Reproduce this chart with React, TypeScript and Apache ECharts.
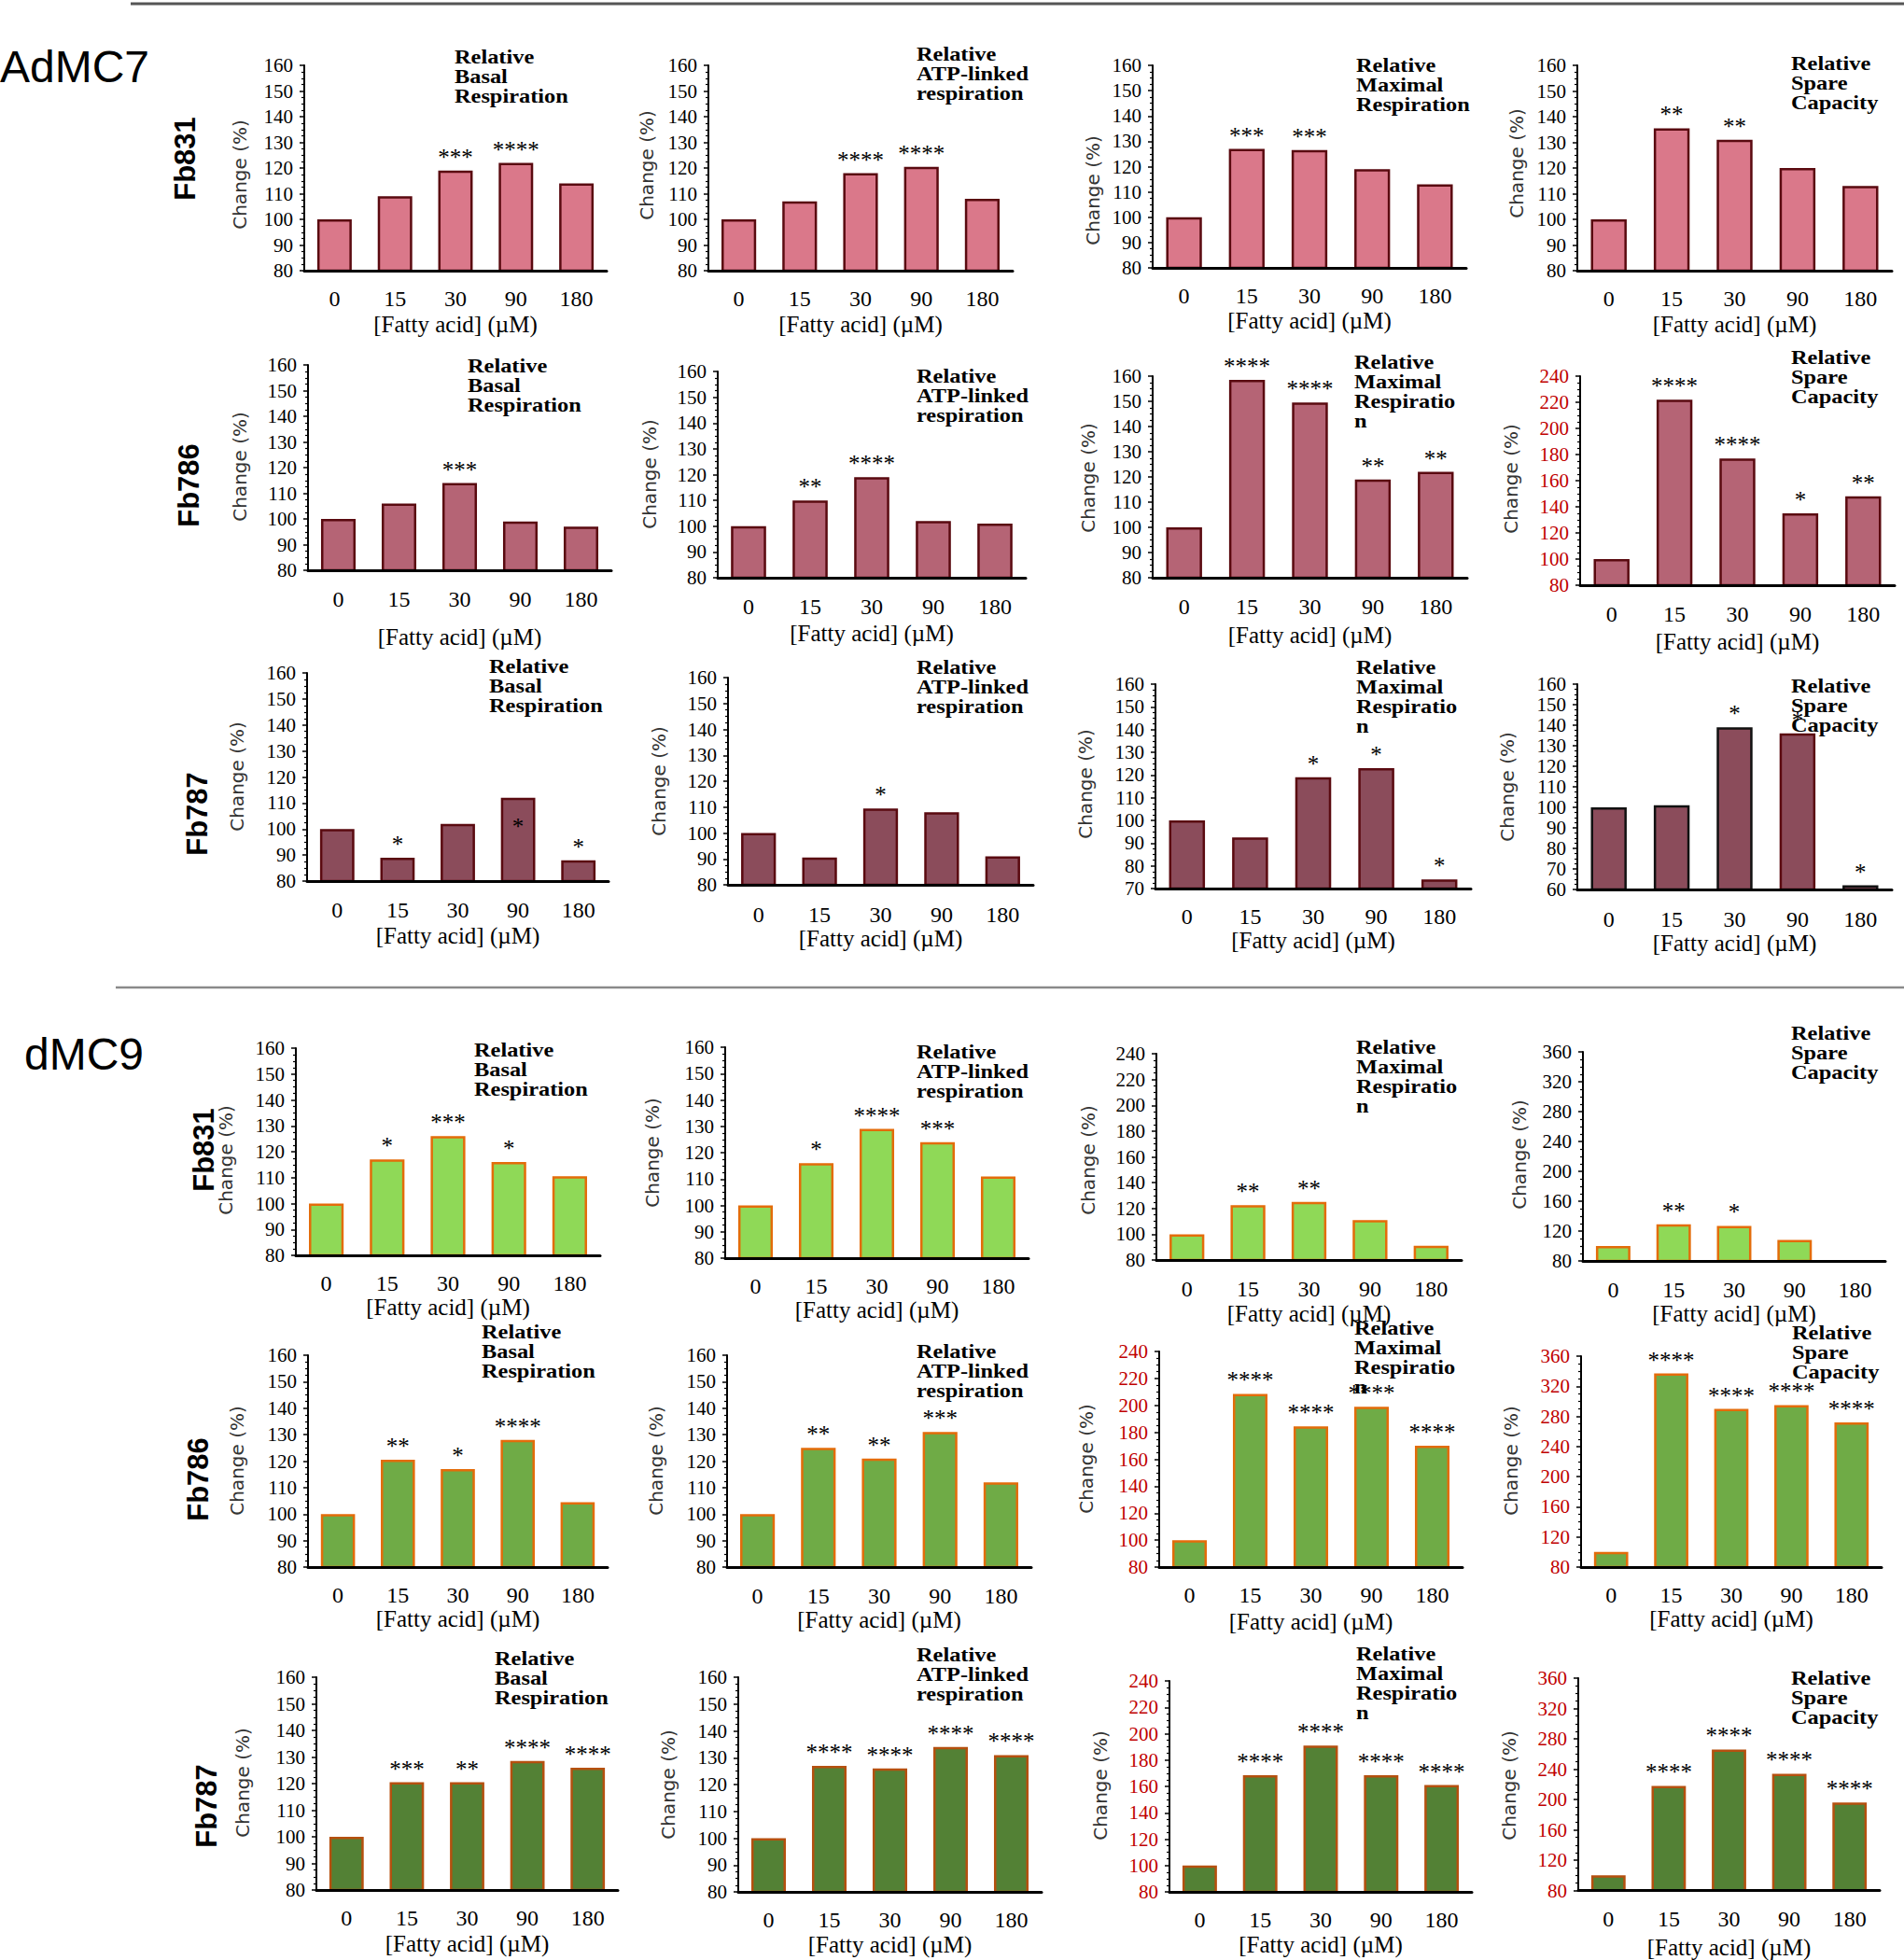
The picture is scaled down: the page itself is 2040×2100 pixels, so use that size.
import React, { useEffect, useRef } from "react";
import * as echarts from "echarts";

// ---------- data ----------
const categories = ["0", "15", "30", "90", "180"];

// AdMC7
const admc7Fb831Basal = [100, 109, 119, 122, 114];
const admc7Fb831BasalSig = ["", "", "***", "****", ""];
const admc7Fb831Atp = [100, 107, 118, 120.5, 108];
const admc7Fb831AtpSig = ["", "", "****", "****", ""];
const admc7Fb831Max = [100, 127, 126.5, 119, 113];
const admc7Fb831MaxSig = ["", "***", "***", "", ""];
const admc7Fb831Spare = [100, 135.5, 131, 120, 113];
const admc7Fb831SpareSig = ["", "**", "**", "", ""];

const admc7Fb786Basal = [100, 106, 114, 99, 97];
const admc7Fb786BasalSig = ["", "", "***", "", ""];
const admc7Fb786Atp = [100, 110, 119, 102, 101];
const admc7Fb786AtpSig = ["", "**", "****", "", ""];
const admc7Fb786Max = [100, 158.5, 149.5, 119, 122];
const admc7Fb786MaxSig = ["", "****", "****", "**", "**"];
const admc7Fb786Spare = [100, 222, 177, 135, 148];
const admc7Fb786SpareSig = ["", "****", "****", "*", "**"];

const admc7Fb787Basal = [100, 89, 102, 112, 88];
const admc7Fb787BasalSig = ["", "*", "", "*", "*"];
const admc7Fb787Atp = [100, 90.5, 109.5, 108, 91];
const admc7Fb787AtpSig = ["", "", "*", "", ""];
const admc7Fb787Max = [100, 92.5, 119, 123, 74];
const admc7Fb787MaxSig = ["", "", "*", "*", "*"];
const admc7Fb787Spare = [100, 101, 139, 136, 62];
const admc7Fb787SpareSig = ["", "", "*", "*", "*"];

// dMC9
const dmc9Fb831Basal = [100, 117, 126, 116, 110.5];
const dmc9Fb831BasalSig = ["", "*", "***", "*", ""];
const dmc9Fb831Atp = [100, 116, 129, 124, 111];
const dmc9Fb831AtpSig = ["", "*", "****", "***", ""];
const dmc9Fb831Max = [100, 122.5, 125, 111, 91];
const dmc9Fb831MaxSig = ["", "**", "**", "", ""];
const dmc9Fb831Spare = [100, 129, 127, 108, 81];
const dmc9Fb831SpareSig = ["", "**", "*", "", ""];

const dmc9Fb786Basal = [100, 120.5, 117, 128, 104.5];
const dmc9Fb786BasalSig = ["", "**", "*", "****", ""];
const dmc9Fb786Atp = [100, 125, 121, 131, 112];
const dmc9Fb786AtpSig = ["", "**", "**", "***", ""];
const dmc9Fb786Max = [100, 208.5, 184.5, 199, 170];
const dmc9Fb786MaxSig = ["", "****", "****", "****", "****"];
const dmc9Fb786Spare = [100, 337, 290, 295, 272];
const dmc9Fb786SpareSig = ["", "****", "****", "****", "****"];

const dmc9Fb787Basal = [100, 120.5, 120.5, 128.5, 126];
const dmc9Fb787BasalSig = ["", "***", "**", "****", "****"];
const dmc9Fb787Atp = [100, 127, 126, 134, 131];
const dmc9Fb787AtpSig = ["", "****", "****", "****", "****"];
const dmc9Fb787Max = [100, 168.5, 191, 168.5, 161];
const dmc9Fb787MaxSig = ["", "****", "****", "****", "****"];
const dmc9Fb787Spare = [100, 218, 266, 234, 196];
const dmc9Fb787SpareSig = ["", "****", "****", "****", "****"];

const rowLabels = ["Fb831", "Fb786", "Fb787", "Fb831", "Fb786", "Fb787"];
const groupLabels = ["AdMC7", "dMC9"];

const T_BASAL = ["Relative", "Basal", "Respiration"];
const T_ATP = ["Relative", "ATP-linked", "respiration"];
const T_MAX = ["Relative", "Maximal", "Respiration"];
const T_MAX2 = ["Relative", "Maximal", "Respiratio", "n"];
const T_SPARE = ["Relative", "Spare", "Capacity"];

// ---------- styles ----------
const FILL = ["#DA788A", "#B56475", "#8B4C5B", "#8FD957", "#6FAB46", "#538135"];
const EDGE = ["#5A0A10", "#5A0A10", "#5A0A10", "#E36C0A", "#E36C0A", "#B5500F"];
const RED = "#C00000";

type Panel = {
  values: number[];
  sig: string[];
  title: string[];
  min: number;
  max: number;
  interval: number;
  red?: boolean;
  edges?: string[];
  insideSig?: number[];
};

const P160 = { min: 80, max: 160, interval: 10 };
const P240 = { min: 80, max: 240, interval: 20 };
const P360 = { min: 80, max: 360, interval: 40 };

const PANELS: Panel[] = [
  { values: admc7Fb831Basal, sig: admc7Fb831BasalSig, title: T_BASAL, ...P160 },
  { values: admc7Fb831Atp, sig: admc7Fb831AtpSig, title: T_ATP, ...P160 },
  { values: admc7Fb831Max, sig: admc7Fb831MaxSig, title: T_MAX, ...P160 },
  { values: admc7Fb831Spare, sig: admc7Fb831SpareSig, title: T_SPARE, ...P160 },

  { values: admc7Fb786Basal, sig: admc7Fb786BasalSig, title: T_BASAL, ...P160 },
  { values: admc7Fb786Atp, sig: admc7Fb786AtpSig, title: T_ATP, ...P160 },
  { values: admc7Fb786Max, sig: admc7Fb786MaxSig, title: T_MAX2, ...P160 },
  { values: admc7Fb786Spare, sig: admc7Fb786SpareSig, title: T_SPARE, ...P240, red: true },

  { values: admc7Fb787Basal, sig: admc7Fb787BasalSig, title: T_BASAL, ...P160, insideSig: [3] },
  { values: admc7Fb787Atp, sig: admc7Fb787AtpSig, title: T_ATP, ...P160 },
  { values: admc7Fb787Max, sig: admc7Fb787MaxSig, title: T_MAX2, min: 70, max: 160, interval: 10 },
  {
    values: admc7Fb787Spare, sig: admc7Fb787SpareSig, title: T_SPARE, min: 60, max: 160, interval: 10,
    edges: ["#111111", "#111111", "#111111", "#5A0A10", "#111111"],
  },

  { values: dmc9Fb831Basal, sig: dmc9Fb831BasalSig, title: T_BASAL, ...P160 },
  { values: dmc9Fb831Atp, sig: dmc9Fb831AtpSig, title: T_ATP, ...P160 },
  { values: dmc9Fb831Max, sig: dmc9Fb831MaxSig, title: T_MAX2, ...P240 },
  { values: dmc9Fb831Spare, sig: dmc9Fb831SpareSig, title: T_SPARE, ...P360 },

  { values: dmc9Fb786Basal, sig: dmc9Fb786BasalSig, title: T_BASAL, ...P160 },
  { values: dmc9Fb786Atp, sig: dmc9Fb786AtpSig, title: T_ATP, ...P160 },
  { values: dmc9Fb786Max, sig: dmc9Fb786MaxSig, title: T_MAX2, ...P240, red: true },
  { values: dmc9Fb786Spare, sig: dmc9Fb786SpareSig, title: T_SPARE, ...P360, red: true },

  { values: dmc9Fb787Basal, sig: dmc9Fb787BasalSig, title: T_BASAL, ...P160 },
  { values: dmc9Fb787Atp, sig: dmc9Fb787AtpSig, title: T_ATP, ...P160 },
  { values: dmc9Fb787Max, sig: dmc9Fb787MaxSig, title: T_MAX2, ...P240, red: true },
  { values: dmc9Fb787Spare, sig: dmc9Fb787SpareSig, title: T_SPARE, ...P360, red: true },
];

// ---------- layout (pixels) ----------
// [left, right, top, bottom, tickLabelY, axisNameY, changeX, changeY, titleX, titleFirstLineY]
const LAYOUT = [
  [326, 650, 70, 290, 320, 347, 257, 187, 487, 61],
  [759, 1085, 70, 290, 320, 347, 693, 177, 982, 58],
  [1235, 1571, 70, 287, 317, 343, 1171, 204, 1453, 70],
  [1690, 2027, 70, 290, 320, 347, 1625, 175, 1919, 68],

  [330, 655, 391, 611, 642, 682, 257, 500, 501, 392],
  [769, 1099, 398, 619, 650, 678, 696, 508, 982, 403],
  [1235, 1572, 403, 619, 650, 680, 1166, 512, 1451, 388],
  [1693, 2030, 403, 627, 658, 687, 1619, 513, 1919, 383],

  [329, 652, 721, 944, 975, 1002, 254, 832, 524, 714],
  [780, 1107, 726, 948, 980, 1002, 706, 837, 982, 715],
  [1238, 1576, 733, 952, 982, 1005, 1163, 840, 1453, 715],
  [1690, 2027, 733, 953, 985, 1008, 1615, 843, 1919, 735],

  [317, 643, 1123, 1345, 1375, 1398, 242, 1243, 508, 1125],
  [777, 1102, 1122, 1348, 1378, 1402, 699, 1235, 982, 1127],
  [1239, 1566, 1129, 1350, 1381, 1407, 1166, 1243, 1453, 1122],
  [1696, 2020, 1127, 1351, 1382, 1405, 1628, 1237, 1919, 1107],

  [330, 651, 1452, 1679, 1709, 1733, 254, 1565, 516, 1427],
  [779, 1105, 1452, 1679, 1710, 1735, 703, 1565, 982, 1448],
  [1242, 1567, 1448, 1679, 1709, 1737, 1164, 1563, 1451, 1423],
  [1694, 2016, 1453, 1679, 1709, 1733, 1619, 1565, 1920, 1428],

  [339, 662, 1797, 2025, 2055, 2082, 260, 1910, 530, 1777],
  [791, 1116, 1797, 2027, 2057, 2083, 716, 1912, 982, 1773],
  [1253, 1577, 1801, 2027, 2057, 2083, 1179, 1913, 1453, 1772],
  [1691, 2014, 1798, 2027, 2057, 2088, 1617, 1913, 1919, 1798],
];
const ROW_LABEL_POS = [
  [198, 170], [202, 520], [211, 872], [218, 1232], [212, 1585], [221, 1935],
];
const GROUP_LABEL_POS = [
  [0, 71], [26, 1129],
];
const TITLE_LINE = 21;

const SERIF = "'Liberation Serif', 'DejaVu Serif', serif";
const SANS = "'Liberation Sans', Arial, sans-serif";
const VERD = "'DejaVu Sans', Verdana, sans-serif";

function buildOption() {
  const grid: any[] = [];
  const xAxis: any[] = [];
  const yAxis: any[] = [];
  const series: any[] = [];
  const graphic: any[] = [];

  PANELS.forEach((p, i) => {
    const [l, r, t, b, ly, ny, cx, cy, tx, ty] = LAYOUT[i];
    const row = Math.floor(i / 4);
    grid.push({ left: l, top: t, width: r - l, height: b - t });
    xAxis.push({
      type: "category",
      gridIndex: i,
      data: categories,
      z: 5,
      axisLine: { show: true, lineStyle: { color: "#000", width: 3 } },
      axisTick: { show: false },
      axisLabel: {
        margin: ly - b - 12,
        fontFamily: SERIF,
        fontSize: 24,
        color: "#000",
      },
      name: "[Fatty acid] (µM)",
      nameLocation: "middle",
      nameGap: ny - b - 12.5,
      nameTextStyle: { fontFamily: SERIF, fontSize: 25, color: "#000" },
    });
    yAxis.push({
      type: "value",
      gridIndex: i,
      min: p.min,
      max: p.max,
      interval: p.interval,
      axisLine: { show: true, lineStyle: { color: "#000", width: 2 } },
      axisTick: { show: true, length: 5, lineStyle: { color: "#000", width: 1.5 } },
      minorTick: { show: true, splitNumber: 4, length: 3, lineStyle: { color: "#000", width: 1.2 } },
      splitLine: { show: false },
      axisLabel: {
        margin: 12,
        fontFamily: SERIF,
        fontSize: 21,
        color: p.red ? RED : "#000",
      },
    });
    series.push({
      type: "bar",
      xAxisIndex: i,
      yAxisIndex: i,
      barWidth: "57%",
      data: p.values.map((v, j) => {
        const inside = (p.insideSig || []).includes(j);
        return {
          value: v,
          itemStyle: {
            color: FILL[row],
            borderColor: (p.edges && p.edges[j]) || EDGE[row],
            borderWidth: 2.5,
          },
          label: {
            show: !!p.sig[j],
            formatter: p.sig[j] || "",
            position: inside ? "insideTop" : "top",
            distance: inside ? 18 : 2,
            fontFamily: SERIF,
            fontSize: 25,
            color: "#000",
          },
        };
      }),
    });

    graphic.push({
      type: "text",
      x: cx,
      y: cy,
      rotation: Math.PI / 2,
      style: {
        text: "Change (%)",
        fontFamily: VERD,
        fontSize: 20,
        fill: "#333",
        align: "center",
        verticalAlign: "middle",
        textAlign: "center",
        textVerticalAlign: "middle",
      },
    });
    p.title.forEach((line, k) => {
      graphic.push({
        type: "text",
        x: tx,
        y: ty + k * TITLE_LINE,
        scaleX: 1.16,
        z: 10,
        style: {
          text: line,
          fontFamily: SERIF,
          fontWeight: "bold",
          fontSize: 21,
          fill: "#000",
          align: "left",
          verticalAlign: "middle",
          textAlign: "left",
          textVerticalAlign: "middle",
        },
      });
    });
  });

  rowLabels.forEach((lab, k) => {
    const [x, y] = ROW_LABEL_POS[k];
    graphic.push({
      type: "text",
      x,
      y,
      rotation: Math.PI / 2,
      style: {
        text: lab,
        fontFamily: SANS,
        fontWeight: "bold",
        fontSize: 31,
        fill: "#000",
        align: "center",
        verticalAlign: "middle",
        textAlign: "center",
        textVerticalAlign: "middle",
      },
    });
  });

  groupLabels.forEach((lab, k) => {
    const [x, y] = GROUP_LABEL_POS[k];
    graphic.push({
      type: "text",
      x,
      y,
      style: {
        text: lab,
        fontFamily: SANS,
        fontSize: 48,
        fill: "#000",
        align: "left",
        verticalAlign: "middle",
        textAlign: "left",
        textVerticalAlign: "middle",
      },
    });
  });

  graphic.push({
    type: "line",
    shape: { x1: 140, y1: 4, x2: 2040, y2: 4 },
    style: { stroke: "#555", lineWidth: 3 },
  });
  graphic.push({
    type: "line",
    shape: { x1: 124, y1: 1058, x2: 2040, y2: 1058 },
    style: { stroke: "#8a8a8a", lineWidth: 2.5 },
  });

  return {
    animation: false,
    backgroundColor: "#ffffff",
    grid,
    xAxis,
    yAxis,
    series,
    graphic,
  };
}

export default function App() {
  const ref = useRef<HTMLDivElement | null>(null);
  useEffect(() => {
    document.body.style.margin = "0";
    if (!ref.current) return;
    const chart = echarts.init(ref.current, null, { renderer: "svg" });
    chart.setOption(buildOption() as any);
    return () => {
      chart.dispose();
    };
  }, []);
  return <div ref={ref} style={{ width: 2040, height: 2100, background: "#fff" }} />;
}
